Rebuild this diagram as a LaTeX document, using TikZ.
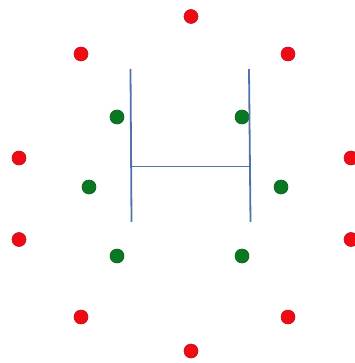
\documentclass[tikz,border=0pt]{standalone}
\begin{document}
\begin{tikzpicture}[x=1pt,y=-1pt,
  reddot/.style={circle,fill={rgb,255:red,240;green,10;blue,20},draw={rgb,255:red,190;green,20;blue,30},line width=0.6pt,minimum size=14pt,inner sep=0pt},
  greendot/.style={circle,fill={rgb,255:red,10;green,120;blue,35},draw={rgb,255:red,10;green,95;blue,30},line width=0.6pt,minimum size=14pt,inner sep=0pt},
  bar/.style={draw={rgb,255:red,80;green,115;blue,170},line width=1.8pt}]
\useasboundingbox (0,0) rectangle (354,363);
\node[reddot] (r1) at (191,16.5) {};
\node[reddot] (r2) at (81,54) {};
\node[reddot] (r3) at (288,54) {};
\node[reddot] (r4) at (19,158) {};
\node[reddot] (r5) at (351,158) {};
\node[reddot] (r6) at (19,239.5) {};
\node[reddot] (r7) at (351,239.5) {};
\node[reddot] (r8) at (81,317) {};
\node[reddot] (r9) at (288,317) {};
\node[reddot] (r10) at (191,351) {};
\node[greendot] (g1) at (117,117) {};
\node[greendot] (g2) at (242,117) {};
\node[greendot] (g3) at (89,187) {};
\node[greendot] (g4) at (281,187) {};
\node[greendot] (g5) at (117,256) {};
\node[greendot] (g6) at (242,256) {};
\coordinate (lt) at (130.5,69);
\coordinate (lb) at (131.5,222);
\coordinate (rt) at (249,69);
\coordinate (rb) at (250.5,222);
\coordinate (hl) at (131.2,166.5);
\coordinate (hr) at (250,166.5);
\draw[bar] (lt) -- (lb);
\draw[bar] (rt) -- (rb);
\draw[bar] (hl) -- (hr);
\end{tikzpicture}
\end{document}
